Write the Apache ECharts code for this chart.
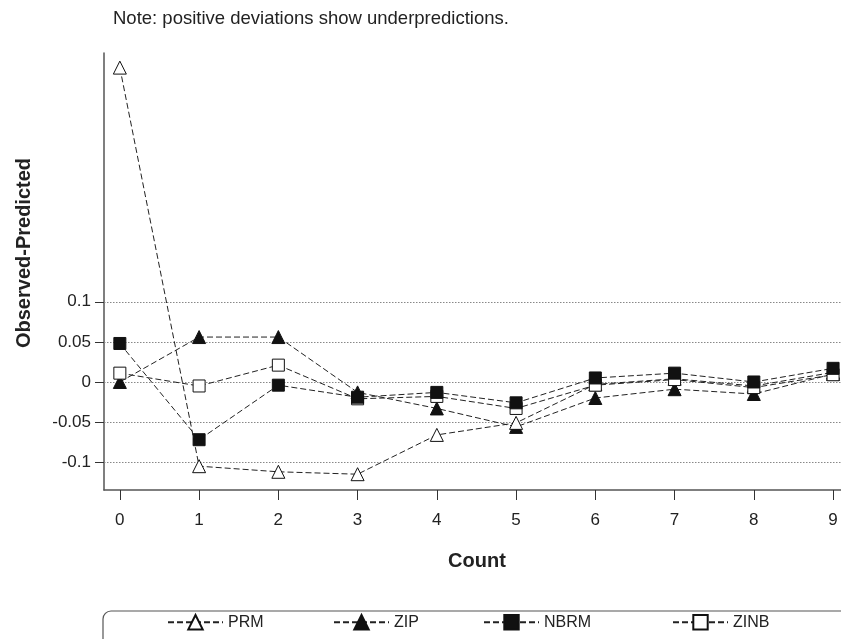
<!DOCTYPE html>
<html>
<head>
<meta charset="utf-8">
<script src="https://cdn.jsdelivr.net/npm/echarts@6/dist/echarts.min.js"></script>
<style>
html,body{margin:0;padding:0;background:#fff;}
#chart{width:841px;height:639px;}
</style>
</head>
<body>
<div id="chart"></div>
<script>
var counts = [0, 1, 2, 3, 4, 5, 6, 7, 8, 9];
var prm  = [0.392, -0.105, -0.112, -0.115, -0.066, -0.051, -0.003, 0.004, -0.005, 0.012];
var zip  = [0.000, 0.056, 0.056, -0.013, -0.033, -0.056, -0.020, -0.009, -0.015, 0.010];
var nbrm = [0.048, -0.072, -0.004, -0.019, -0.013, -0.026, 0.005, 0.011, 0.000, 0.017];
var zinb = [0.011, -0.005, 0.021, -0.021, -0.018, -0.033, -0.004, 0.003, -0.007, 0.009];
var yTickValues = [-0.1, -0.05, 0, 0.05, 0.1];
var yTickLabels = ['-0.1', '-0.05', '0', '0.05', '0.1'];
var xTickValues = [0, 1, 2, 3, 4, 5, 6, 7, 8, 9];
var seriesNames = ['PRM', 'ZIP', 'NBRM', 'ZINB'];
var noteText = 'Note: positive deviations show underpredictions.';
var yTitle = 'Observed-Predicted';
var xTitle = 'Count';

var FONT = "'Liberation Sans', Arial, Helvetica, sans-serif";

function pairs(vals) {
  return counts.map(function (c, i) { return [c, vals[i]]; });
}

var dash = [6, 3];
function mkSeries(name, vals, symbol, size, filled, extra) {
  var s = {
    name: name,
    type: 'line',
    data: pairs(vals),
    symbol: symbol,
    symbolSize: size,
    showAllSymbol: true,
    animation: false,
    lineStyle: { color: '#222', width: 1, type: dash },
    itemStyle: {
      color: filled ? '#111' : '#fff',
      borderColor: '#111',
      borderWidth: 1,
      opacity: 1
    },
    emphasis: { disabled: true }
  };
  if (extra) { for (var k in extra) s[k] = extra[k]; }
  return s;
}

var chart = echarts.init(document.getElementById('chart'), null, { renderer: 'canvas' });

var legendStarts = { PRM: 167, ZIP: 333, NBRM: 483, ZINB: 672 };
var legends = seriesNames.map(function (n) {
  return {
    data: [n],
    left: legendStarts[n],
    top: 614,
    padding: 0,
    itemWidth: 55,
    itemHeight: 18,
    selectedMode: false,
    textStyle: { fontFamily: FONT, fontSize: 16, color: '#222' }
  };
});

var option = {
  backgroundColor: '#fff',
  animation: false,
  grid: { left: 104, right: 0, top: 53, bottom: 149, containLabel: false },
  legend: legends,
  xAxis: {
    type: 'value',
    min: -0.2,
    max: 9.1,
    axisLine: { show: true, onZero: false, lineStyle: { color: '#555', width: 1.5 } },
    axisTick: { show: true, length: 10, lineStyle: { color: '#333', width: 1 }, customValues: xTickValues },
    axisLabel: { customValues: xTickValues, margin: 22, fontFamily: FONT, fontSize: 17, color: '#222' },
    splitLine: { show: false }
  },
  yAxis: {
    type: 'value',
    min: -0.1347,
    max: 0.4102,
    axisLine: { show: true, onZero: false, lineStyle: { color: '#555', width: 1.5 } },
    axisTick: { show: true, length: 9, lineStyle: { color: '#333', width: 1 }, customValues: yTickValues },
    axisLabel: {
      customValues: yTickValues,
      margin: 13,
      fontFamily: FONT,
      fontSize: 17,
      color: '#222',
      formatter: function (v) {
        for (var i = 0; i < yTickValues.length; i++) {
          if (Math.abs(yTickValues[i] - v) < 1e-9) return yTickLabels[i];
        }
        return '';
      }
    },
    splitLine: { show: false }
  },
  graphic: [
    {
      type: 'text', left: 113, top: 9,
      style: { text: noteText, font: '18.5px ' + FONT, fill: '#222' }
    },
    {
      type: 'text', x: 24, y: 253, rotation: Math.PI / 2,
      style: { text: yTitle, font: 'bold 20px ' + FONT, fill: '#222', align: 'center', verticalAlign: 'middle' }
    },
    {
      type: 'text', x: 477, y: 561,
      style: { text: xTitle, font: 'bold 20px ' + FONT, fill: '#222', align: 'center', verticalAlign: 'middle' }
    },
    {
      type: 'rect', shape: { x: 103, y: 611, width: 780, height: 70, r: 8 },
      style: { fill: 'none', stroke: '#555', lineWidth: 1.2 }, z: 0
    }
  ],
  series: [
    mkSeries('ZIP', zip, 'triangle', 13, true, {
      markLine: {
        silent: true,
        symbol: ['none', 'none'],
        label: { show: false },
        lineStyle: { color: '#888', width: 1, type: [1.5, 1.5] },
        data: yTickValues.map(function (v) { return { yAxis: v }; }),
        animation: false,
        z: 1
      }
    }),
    mkSeries('PRM', prm, 'triangle', 13, false),
    mkSeries('ZINB', zinb, 'rect', 12, false),
    mkSeries('NBRM', nbrm, 'rect', 12, true)
  ]
};
chart.setOption(option);
</script>
</body>
</html>
